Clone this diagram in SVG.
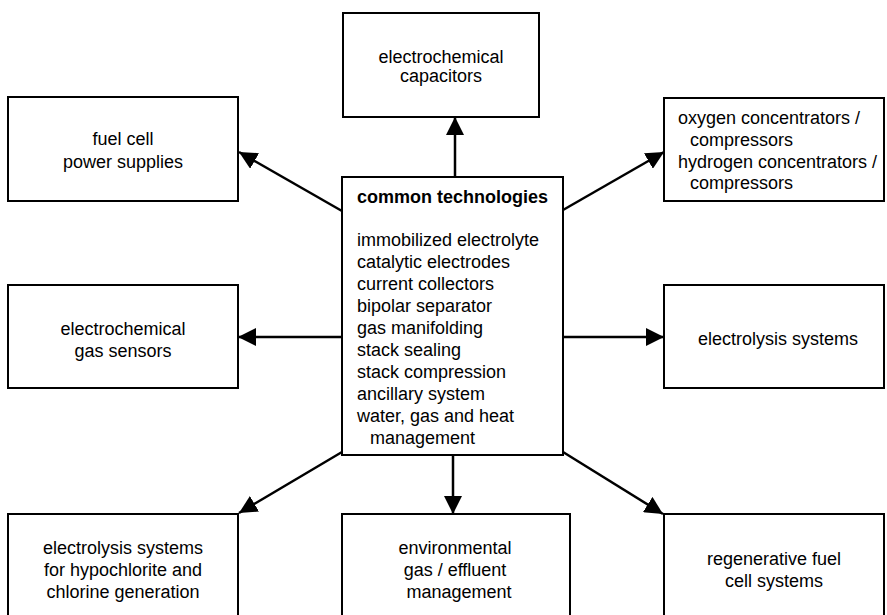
<svg xmlns="http://www.w3.org/2000/svg" width="887" height="615" viewBox="0 0 887 615">
<style>
.box{fill:#fff;stroke:#000;stroke-width:2}
text{font-family:"Liberation Sans",Arial,sans-serif;font-size:18px;fill:#000}
.c{text-anchor:middle}
.b{font-weight:bold}
.con line{stroke:#000;stroke-width:2.5}
</style>
<defs>
<marker id="ah" viewBox="0 0 18 18" refX="18" refY="9" markerWidth="18" markerHeight="18" markerUnits="userSpaceOnUse" orient="auto">
<path d="M0,0 L18,9 L0,18 Z" fill="#000"/>
</marker>
</defs>
<rect width="887" height="615" fill="#fff"/>
<g class="con">
<line x1="455" y1="177" x2="455" y2="117" marker-end="url(#ah)"/>
<line x1="342" y1="211" x2="239" y2="152" marker-end="url(#ah)"/>
<line x1="563" y1="210" x2="664" y2="152" marker-end="url(#ah)"/>
<line x1="342" y1="337" x2="238" y2="337" marker-end="url(#ah)"/>
<line x1="563" y1="337" x2="664" y2="337" marker-end="url(#ah)"/>
<line x1="342" y1="452" x2="239" y2="513" marker-end="url(#ah)"/>
<line x1="453" y1="455" x2="453" y2="514" marker-end="url(#ah)"/>
<line x1="563" y1="452" x2="663" y2="514" marker-end="url(#ah)"/>
</g>
<g id="center">
<rect class="box" x="342" y="177" width="221" height="278"/>
<text class="b" x="357" y="203">common technologies</text>
<text x="357" y="246">immobilized electrolyte</text>
<text x="357" y="268">catalytic electrodes</text>
<text x="357" y="290">current collectors</text>
<text x="357" y="312">bipolar separator</text>
<text x="357" y="334">gas manifolding</text>
<text x="357" y="356">stack sealing</text>
<text x="357" y="378">stack compression</text>
<text x="357" y="400">ancillary system</text>
<text x="357" y="422">water, gas and heat</text>
<text x="370" y="444">management</text>
</g>
<g id="capacitors">
<rect class="box" x="343" y="13" width="196" height="104"/>
<text class="c" x="441" y="63">electrochemical</text>
<text class="c" x="441" y="82">capacitors</text>
</g>
<g id="fuelcell">
<rect class="box" x="8" y="97" width="230" height="104"/>
<text class="c" x="123" y="145">fuel cell</text>
<text class="c" x="123" y="168">power supplies</text>
</g>
<g id="concentrators">
<rect class="box" x="664" y="98" width="220" height="103"/>
<text x="678" y="124">oxygen concentrators /</text>
<text x="690" y="146">compressors</text>
<text x="678" y="168">hydrogen concentrators /</text>
<text x="690" y="189">compressors</text>
</g>
<g id="sensors">
<rect class="box" x="8" y="285" width="230" height="103"/>
<text class="c" x="123" y="335">electrochemical</text>
<text class="c" x="123" y="357">gas sensors</text>
</g>
<g id="electrolysis">
<rect class="box" x="664" y="285" width="220" height="103"/>
<text class="c" x="778" y="345">electrolysis systems</text>
</g>
<g id="hypochlorite">
<rect class="box" x="8" y="514" width="230" height="110"/>
<text class="c" x="123" y="554">electrolysis systems</text>
<text class="c" x="123" y="576">for hypochlorite and</text>
<text class="c" x="123" y="598">chlorine generation</text>
</g>
<g id="environmental">
<rect class="box" x="342" y="514" width="228" height="110"/>
<text class="c" x="455" y="554">environmental</text>
<text class="c" x="455" y="576">gas / effluent</text>
<text class="c" x="459" y="598">management</text>
</g>
<g id="regenerative">
<rect class="box" x="664" y="514" width="220" height="110"/>
<text class="c" x="774" y="565">regenerative fuel</text>
<text class="c" x="774" y="587">cell systems</text>
</g>
</svg>
